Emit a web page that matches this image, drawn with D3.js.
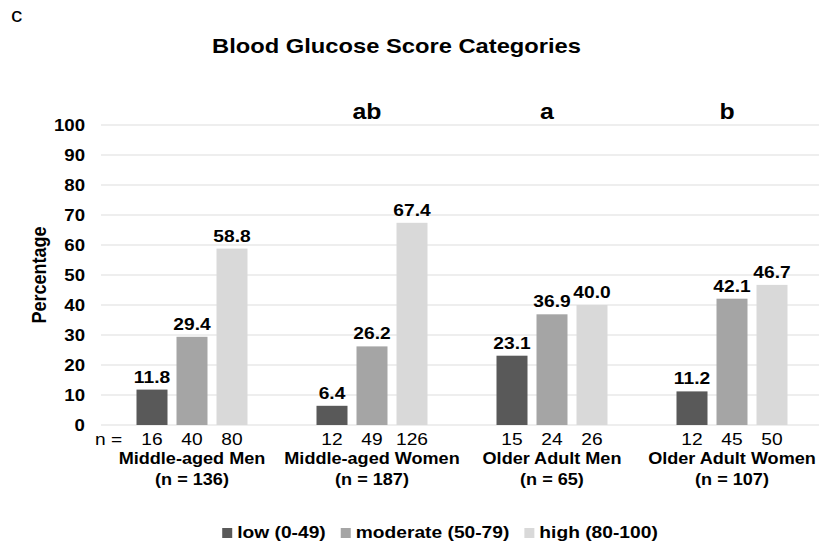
<!DOCTYPE html>
<html>
<head>
<meta charset="utf-8">
<script src="https://cdn.jsdelivr.net/npm/d3@7"></script>
<style>
  html, body { margin: 0; padding: 0; background: #fff; }
  svg text { font-family: "Liberation Sans", Arial, sans-serif; fill: #000; }
</style>
</head>
<body>
<svg id="chart" width="819" height="546"></svg>
<script>
// ---- data ----
const groups = ["Middle-aged Men", "Middle-aged Women", "Older Adult Men", "Older Adult Women"];
const groupTotals = ["(n = 136)", "(n = 187)", "(n = 65)", "(n = 107)"];
const seriesNames = ["low (0-49)", "moderate (50-79)", "high (80-100)"];
const lowValues = [11.8, 6.4, 23.1, 11.2];
const moderateValues = [29.4, 26.2, 36.9, 42.1];
const highValues = [58.8, 67.4, 40.0, 46.7];
const lowCounts = [16, 12, 15, 12];
const moderateCounts = [40, 49, 24, 45];
const highCounts = [80, 126, 26, 50];
const sigLetters = ["", "ab", "a", "b"];
const yTicks = [0, 10, 20, 30, 40, 50, 60, 70, 80, 90, 100];
const colors = ["#595959", "#a5a5a5", "#d9d9d9"];

const seriesValues = [lowValues, moderateValues, highValues];
const seriesCounts = [lowCounts, moderateCounts, highCounts];

// horizontal stretch of the reference rendering
const S = 1.13;
const X = v => v / S;

const svg = d3.select("#chart");
const root = svg.append("g").attr("transform", `scale(${S},1)`);

const y = d3.scaleLinear().domain([0, 100]).range([425, 125]);
const x0 = d3.scaleBand().domain(groups).range([X(102), X(822)]).paddingInner(0).paddingOuter(0);
const x1 = d3.scaleBand().domain(seriesNames).range([0, x0.bandwidth()])
  .paddingInner(0.225).paddingOuter(0.8625);

// panel letter
root.append("text").attr("x", X(11)).attr("y", 22)
  .style("font-size", "20px").text("c");

// title
root.append("text").attr("x", X(396.5)).attr("y", 53)
  .attr("text-anchor", "middle")
  .style("font-size", "21px").style("font-weight", "bold")
  .text("Blood Glucose Score Categories");

// gridlines
root.append("g").selectAll("line").data(yTicks).join("line")
  .attr("x1", X(101)).attr("x2", X(830))
  .attr("y1", d => y(d)).attr("y2", d => y(d))
  .attr("stroke", "#e8e8e8").attr("stroke-width", 1.3);

// y axis labels
const yAxis = d3.axisLeft(y).tickValues(yTicks).tickSize(0).tickPadding(0);
const yg = root.append("g").attr("transform", `translate(${X(85)},0)`).call(yAxis);
yg.select(".domain").remove();
yg.selectAll("text")
  .style("font-family", "'Liberation Sans', Arial, sans-serif")
  .style("font-size", "16.5px").style("font-weight", "bold").attr("fill", "#000");

// y title
root.append("text")
  .attr("transform", `translate(${X(46)},275) rotate(-90)`)
  .attr("text-anchor", "middle")
  .style("font-size", "18px").style("font-weight", "bold")
  .text("Percentage");

// bars
const gBars = root.append("g").selectAll("g").data(groups).join("g")
  .attr("transform", d => `translate(${x0(d)},0)`);

gBars.each(function(g, gi) {
  const sel = d3.select(this);
  seriesNames.forEach((s, si) => {
    const v = seriesValues[si][gi];
    sel.append("rect")
      .attr("x", x1(s)).attr("width", x1.bandwidth())
      .attr("y", y(v)).attr("height", y(0) - y(v))
      .attr("fill", colors[si]);
    sel.append("text")
      .attr("x", x1(s) + x1.bandwidth() / 2).attr("y", y(v) - 7)
      .attr("text-anchor", "middle")
      .style("font-size", "17px").style("font-weight", "bold")
      .text(v.toFixed(1));
    sel.append("text")
      .attr("x", x1(s) + x1.bandwidth() / 2).attr("y", 445)
      .attr("text-anchor", "middle")
      .style("font-size", "17px")
      .text(seriesCounts[si][gi]);
  });
  // group labels
  sel.append("text").attr("x", x0.bandwidth() / 2).attr("y", 464)
    .attr("text-anchor", "middle")
    .style("font-size", "16px").style("font-weight", "bold")
    .text(g);
  sel.append("text").attr("x", x0.bandwidth() / 2).attr("y", 485)
    .attr("text-anchor", "middle")
    .style("font-size", "16px").style("font-weight", "bold")
    .text(groupTotals[gi]);
  if (sigLetters[gi]) {
    sel.append("text").attr("x", x0.bandwidth() / 2 - X(5)).attr("y", 119)
      .attr("text-anchor", "middle")
      .style("font-size", "22px").style("font-weight", "bold")
      .text(sigLetters[gi]);
  }
});

// "n =" prefix
root.append("text").attr("x", X(95)).attr("y", 445)
  .style("font-size", "17px").text("n =");

// legend
const leg = root.append("g");
let cx = 0;
const items = [];
seriesNames.forEach((s, i) => {
  const it = leg.append("g");
  it.append("rect").attr("x", 0).attr("y", 528).attr("width", X(10)).attr("height", 10).attr("fill", colors[i]);
  const t = it.append("text").attr("x", X(15)).attr("y", 538)
    .style("font-size", "17px").style("font-weight", "bold").text(s);
  const w = X(15) + t.node().getComputedTextLength();
  it.attr("transform", `translate(${cx},0)`);
  cx += w + X(15);
});
const total = cx - X(15);
leg.attr("transform", `translate(${X(440) - total / 2},0)`);
</script>
</body>
</html>
